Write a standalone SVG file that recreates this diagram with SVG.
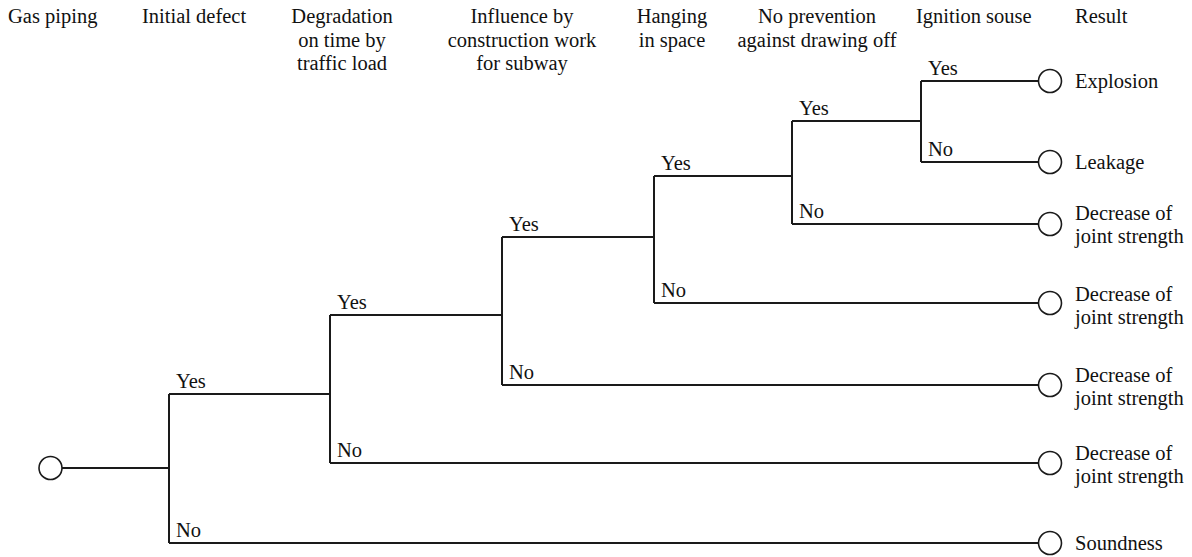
<svg xmlns="http://www.w3.org/2000/svg" width="1192" height="557" viewBox="0 0 1192 557">
<style>
.t { font-size: 20.5px; fill: #111; }
.h { text-anchor: middle; }
.ln { stroke: #1a1a1a; stroke-width: 2; fill: none; }
.nd { stroke: #1a1a1a; stroke-width: 1.6; fill: #fff; }
</style>
<rect width="1192" height="557" fill="#fff"/>
<g class="t" font-family="Liberation Serif, DejaVu Serif, serif">
<g id="headers">
<text x="8" y="23">Gas piping</text>
<text x="142" y="23">Initial defect</text>
<text class="h" x="342" y="23">Degradation</text>
<text class="h" x="342" y="47">on time by</text>
<text class="h" x="342" y="70">traffic load</text>
<text class="h" x="522" y="23">Influence by</text>
<text class="h" x="522" y="47">construction work</text>
<text class="h" x="522" y="70">for subway</text>
<text class="h" x="672" y="23">Hanging</text>
<text class="h" x="672" y="47">in space</text>
<text class="h" x="817" y="23">No prevention</text>
<text class="h" x="817" y="47">against drawing off</text>
<text x="916" y="23">Ignition souse</text>
<text x="1075" y="23">Result</text>
</g>
<g id="branch-labels">
<text x="176" y="388">Yes</text>
<text x="176" y="537">No</text>
<text x="337" y="309">Yes</text>
<text x="337" y="457">No</text>
<text x="509" y="231">Yes</text>
<text x="509" y="379">No</text>
<text x="661" y="170">Yes</text>
<text x="661" y="297">No</text>
<text x="799" y="115">Yes</text>
<text x="799" y="218">No</text>
<text x="928" y="75">Yes</text>
<text x="928" y="156">No</text>
</g>
</g>
<g id="connectors" class="ln">
<path d="M62 468 H169"/>
<path d="M169 394 V543"/>
<path d="M169 394 H330"/>
<path d="M169 543 H1039"/>
<path d="M330 315 V463"/>
<path d="M330 315 H502"/>
<path d="M330 463 H1039"/>
<path d="M502 237 V385"/>
<path d="M502 237 H654"/>
<path d="M502 385 H1039"/>
<path d="M654 176 V303"/>
<path d="M654 176 H792"/>
<path d="M654 303 H1039"/>
<path d="M792 121 V224"/>
<path d="M792 121 H921"/>
<path d="M792 224 H1039"/>
<path d="M921 81 V162"/>
<path d="M921 81 H1039"/>
<path d="M921 162 H1039"/>
</g>
<g class="t" font-family="Liberation Serif, DejaVu Serif, serif">
<g id="root"><circle class="nd" cx="50.5" cy="468" r="11.5"/></g>
<g id="end-explosion"><circle class="nd" cx="1050" cy="81" r="11.5"/><text x="1075" y="88">Explosion</text></g>
<g id="end-leakage"><circle class="nd" cx="1050" cy="162" r="11.5"/><text x="1075" y="169">Leakage</text></g>
<g id="end-decrease-1"><circle class="nd" cx="1050" cy="224" r="11.5"/><text x="1075" y="220">Decrease of</text><text x="1075" y="243">joint strength</text></g>
<g id="end-decrease-2"><circle class="nd" cx="1050" cy="303" r="11.5"/><text x="1075" y="301">Decrease of</text><text x="1075" y="324">joint strength</text></g>
<g id="end-decrease-3"><circle class="nd" cx="1050" cy="385" r="11.5"/><text x="1075" y="382">Decrease of</text><text x="1075" y="405">joint strength</text></g>
<g id="end-decrease-4"><circle class="nd" cx="1050" cy="463" r="11.5"/><text x="1075" y="460">Decrease of</text><text x="1075" y="483">joint strength</text></g>
<g id="end-soundness"><circle class="nd" cx="1050" cy="543" r="11.5"/><text x="1075" y="550">Soundness</text></g>
</g>
</svg>
